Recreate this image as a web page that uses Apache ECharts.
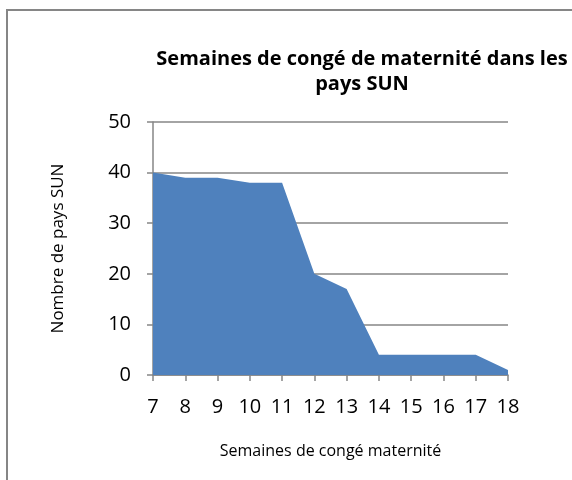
<!DOCTYPE html>
<html>
<head>
<meta charset="utf-8">
<script src="https://cdn.jsdelivr.net/npm/echarts@6/dist/echarts.min.js"></script>
<style>
  html, body { margin: 0; padding: 0; background: #fff; }
  #chart { width: 572px; height: 480px; }
</style>
</head>
<body>
<div id="chart"></div>
<script>
// semaines de congé (catégories) et nombre de pays
let weeks = ['7', '8', '9', '10', '11', '12', '13', '14', '15', '16', '17', '18'];
let countries = [40, 39, 39, 38, 38, 20, 17, 4, 4, 4, 4, 1];
let yTicks = { min: 0, max: 50, interval: 10 };

let font = '"Open Sans", "Liberation Sans", sans-serif';
let chart = echarts.init(document.getElementById('chart'));

let option = {
    animation: false,
    title: {
        text: 'Semaines de congé de maternité dans les\npays SUN',
        left: 357,
        top: 42,
        textAlign: 'center',
        textStyle: {
            fontFamily: font,
            fontSize: 20,
            fontWeight: 'bold',
            color: '#000',
            lineHeight: 25
        }
    },
    graphic: [{
        type: 'rect',
        shape: { x: 7, y: 10, width: 620, height: 520 },
        style: { fill: 'none', stroke: '#868686', lineWidth: 2 },
        silent: true
    }],
    grid: {
        left: 153,
        right: 64,
        top: 122,
        bottom: 105
    },
    xAxis: {
        type: 'category',
        data: weeks,
        boundaryGap: false,
        name: 'Semaines de congé maternité',
        nameLocation: 'middle',
        nameGap: 68,
        nameTextStyle: { fontFamily: font, fontSize: 16, color: '#000' },
        axisLine: { lineStyle: { color: '#868686', width: 1.5 } },
        axisTick: { show: true, inside: false, length: 6, alignWithLabel: true, lineStyle: { color: '#868686', width: 1.5 } },
        axisLabel: { fontFamily: font, fontSize: 20, color: '#000', margin: 22, interval: 0 },
        splitLine: { show: false }
    },
    yAxis: {
        type: 'value',
        min: yTicks.min,
        max: yTicks.max,
        interval: yTicks.interval,
        name: 'Nombre de pays SUN',
        nameLocation: 'middle',
        nameGap: 86,
        nameTextStyle: { fontFamily: font, fontSize: 17, color: '#000' },
        axisLine: { show: true, lineStyle: { color: '#868686', width: 1.5 } },
        axisTick: { show: true, length: 6, lineStyle: { color: '#868686', width: 1.5 } },
        axisLabel: { fontFamily: font, fontSize: 20, color: '#000', margin: 22 },
        splitLine: { show: true, lineStyle: { color: '#868686', width: 1.5 } }
    },
    series: [{
        type: 'line',
        data: countries,
        showSymbol: false,
        lineStyle: { width: 0 },
        areaStyle: { color: '#4F81BD', opacity: 1 },
        z: 3
    }]
};

chart.setOption(option);
</script>
</body>
</html>
